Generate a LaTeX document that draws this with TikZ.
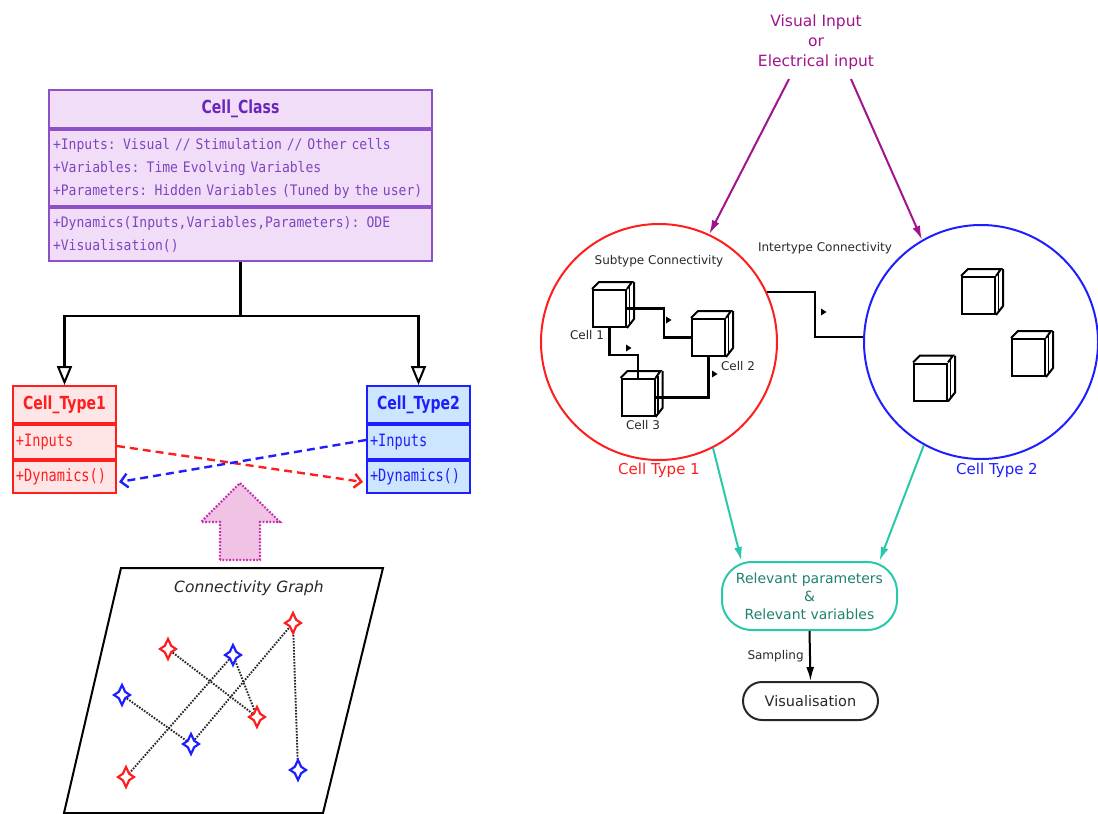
\documentclass[tikz,border=0pt]{standalone}
\usepackage{fontspec}
\setmainfont{DejaVu Sans}
\newfontfamily\umlmono{DejaVu Sans Mono}[FakeStretch=0.9]
\newfontfamily\smallmono{DejaVu Sans Mono}[FakeStretch=0.8]
\newfontfamily\umlttl{DejaVu Sans}[FakeStretch=0.78]
\usetikzlibrary{arrows.meta,calc}
\definecolor{umlpur}{RGB}{140,80,200}
\definecolor{umlfill}{RGB}{242,221,248}
\definecolor{umltext}{RGB}{125,70,190}
\definecolor{umltitle}{RGB}{105,40,185}
\definecolor{ctred}{RGB}{255,30,30}
\definecolor{ctredfill}{RGB}{255,230,230}
\definecolor{ctblue}{RGB}{30,30,255}
\definecolor{ctbluefill}{RGB}{204,230,255}
\definecolor{magin}{RGB}{160,20,140}
\definecolor{teal2}{RGB}{40,200,170}
\definecolor{tealtext}{RGB}{30,130,110}
\definecolor{pinkfill}{RGB}{240,195,228}
\definecolor{pinkline}{RGB}{200,50,180}
\definecolor{darktext}{RGB}{40,40,40}
\newcommand\cubeextra[1]{%
  \draw[cubeline] (#1.north west) -- ++(7,-7) -- ++(33,0) -- (#1.north east);
  \draw[cubeline] ($(#1.north east)+(7,-7)$) -- ++(0,37) -- (#1.south east);
  \draw[line width=1.2pt] ($(#1.north east)+(2.5,-2.5)$) -- ++(0,37);
}
\begin{document}
\begin{tikzpicture}[x=1pt,y=-1pt,
  umlbox/.style={draw, line width=2pt, inner sep=0pt, anchor=north west, rectangle},
  cchead/.style={umlbox, draw=umlpur, fill=umlfill, text=umltitle,
     font=\umlttl\bfseries\fontsize{18}{20}\selectfont, minimum width=383pt, minimum height=38pt},
  ccbody/.style={umlbox, draw=umlpur, fill=umlfill, text=umltext, inner xsep=4pt,
     font=\umlmono\fontsize{14.5}{23}\selectfont, text width=375pt, align=left},
  cthead/.style={umlbox, font=\umlttl\bfseries\fontsize{18}{20}\selectfont,
     minimum width=103pt, minimum height=37pt},
  ctbody/.style={umlbox, inner xsep=3pt, font=\smallmono\fontsize{17}{20}\selectfont,
     text width=97pt, align=left},
  redbox/.style={draw=ctred, fill=ctredfill, text=ctred},
  bluebox/.style={draw=ctblue, fill=ctbluefill, text=ctblue},
  inh/.style={line width=2.2pt, -{Triangle[open,length=19pt,width=15pt,line width=2pt,fill=white]}},
  dasharr/.style={line width=2.4pt, dash pattern=on 8pt off 5pt, -{Straight Barb[length=7pt,width=14pt,line width=2.4pt]}},
  graphedge/.style={line width=1.9pt, dash pattern=on 1.6pt off 1.4pt, draw=black!85},
  starpath/.style={line width=2.2pt, fill=white},
  redstar/.pic={\draw[starpath, draw=ctred] (0,-10) -- (3.2,-3.2) -- (8,0) -- (3.2,3.2) -- (0,10) -- (-3.2,3.2) -- (-8,0) -- (-3.2,-3.2) -- cycle;},
  bluestar/.pic={\draw[starpath, draw=ctblue] (0,-10) -- (3.2,-3.2) -- (8,0) -- (3.2,3.2) -- (0,10) -- (-3.2,3.2) -- (-8,0) -- (-3.2,-3.2) -- cycle;},
  cubef/.style={draw, line width=2pt, minimum width=33pt, minimum height=37pt, inner sep=0pt, fill=white},
  cubeline/.style={line width=2pt},
  conn/.style={line width=2.2pt},
  marker/.pic={\fill (-2,-3.5) -- (3.5,0) -- (-2,3.5) -- cycle;},
  lbl/.style={text=darktext, font=\fontsize{12}{14}\selectfont},
  magarrow/.style={draw=magin, line width=2pt, -{Latex[length=14pt,width=8pt]}},
  tealarrow/.style={draw=teal2, line width=2pt, -{Latex[length=14pt,width=8pt]}},
]
\useasboundingbox (0,0) rectangle (1098,814);

% ---------- Cell_Class ----------
\node[cchead] (cc) at (48,89) {Cell\_Class};
\node[ccbody, minimum height=76pt] (ccattr) at (cc.south west)
  {+Inputs: Visual // Stimulation // Other cells\\+Variables: Time Evolving Variables\\+Parameters: Hidden Variables (Tuned by the user)};
\node[ccbody, minimum height=53pt] (ccmeth) at (ccattr.south west)
  {+Dynamics(Inputs,Variables,Parameters): ODE\\+Visualisation()};

% ---------- Cell_Type1 ----------
\node[cthead, redbox] (ct1) at (12,385) {Cell\_Type1};
\node[ctbody, redbox, minimum height=34pt] (ct1in) at (ct1.south west) {+Inputs};
\node[ctbody, redbox, minimum height=32pt] (ct1dyn) at (ct1in.south west) {+Dynamics()};

% ---------- Cell_Type2 ----------
\node[cthead, bluebox] (ct2) at (366,385) {Cell\_Type2};
\node[ctbody, bluebox, minimum height=34pt] (ct2in) at (ct2.south west) {+Inputs};
\node[ctbody, bluebox, minimum height=32pt] (ct2dyn) at (ct2in.south west) {+Dynamics()};

% inheritance
\coordinate (split) at ($(ccmeth.south)+(0,54)$);
\draw[line width=2.2pt] (ccmeth.south) -- (split);
\draw[inh] (split) -| (ct1.north);
\draw[inh] (split) -| (ct2.north);

% dashed cross arrows
\draw[dasharr, draw=ctred] ([yshift=-4pt]ct1in.east) -- ([yshift=-5pt,xshift=-3pt]ct2dyn.west);
\draw[dasharr, draw=ctblue] ([yshift=2pt]ct2in.west) -- ([yshift=-5pt,xshift=2pt]ct1dyn.east);

% big pink arrow
\draw[draw=pinkline, fill=pinkfill, line width=2.2pt, dash pattern=on 1.8pt off 1.6pt]
  (220,560) -- (220,522) -- (201,522) -- (240,483) -- (280,522) -- (260,522) -- (260,560) -- cycle;

% connectivity graph panel
\draw[line width=2pt] (121,568) -- (383,568) -- (323,813) -- (64,813) -- cycle;
\node[font=\itshape\fontsize{15.5}{18}\selectfont, text=darktext] (cgtitle) at (249,588) {Connectivity Graph};

\coordinate (r1) at (293,623);
\coordinate (r2) at (168,649);
\coordinate (b1) at (233,655);
\coordinate (b2) at (122,695);
\coordinate (r3) at (257,717);
\coordinate (b3) at (191,744);
\coordinate (r4) at (126,777);
\coordinate (b4) at (298,770);
\draw[graphedge] (r2) -- (r3);
\draw[graphedge] (b1) -- (r3);
\draw[graphedge] (b1) -- (r4);
\draw[graphedge] (b2) -- (b3);
\draw[graphedge] (b3) -- (r1);
\draw[graphedge] (r1) -- (b4);
\pic at (r1) {redstar};
\pic at (r2) {redstar};
\pic at (r3) {redstar};
\pic at (r4) {redstar};
\pic at (b1) {bluestar};
\pic at (b2) {bluestar};
\pic at (b3) {bluestar};
\pic at (b4) {bluestar};

% ---------- Right side ----------
\node[text=magin, align=center, font=\fontsize{15.5}{20}\selectfont] (inp) at (816,42)
  {Visual Input\\or\\Electrical input};

\node[circle, draw=ctred, line width=2pt, minimum size=236pt, inner sep=0pt] (redc) at (659,342) {};
\node[circle, draw=ctblue, line width=2pt, minimum size=234pt, inner sep=0pt] (bluec) at (981,342) {};

\draw[magarrow] ([xshift=-27pt,yshift=-6pt]inp.south) -- (redc.65);
\draw[magarrow] ([xshift=35pt,yshift=-6pt]inp.south) -- (bluec.120);

\node[text=ctred, font=\fontsize{15}{18}\selectfont] (ct1lbl) at (659,470) {Cell Type 1};
\node[text=ctblue, font=\fontsize{15}{18}\selectfont] (ct2lbl) at (997,470) {Cell Type 2};

\node[lbl] (subt) at (659,261) {Subtype Connectivity};
\node[lbl] (intt) at (825,248) {Intertype Connectivity};

% cubes in red circle
\node[cubef] (c1) at (609.5,308.5) {};
\cubeextra{c1}
\node[cubef] (c2) at (708.5,337.5) {};
\cubeextra{c2}
\node[cubef] (c3) at (638,397.5) {};
\cubeextra{c3}
\node[lbl] (c1l) at (587,335) {Cell 1};
\node[lbl] (c2l) at (738,366) {Cell 2};
\node[lbl] (c3l) at (643,425) {Cell 3};

\draw[conn] (c1.east) -- ++(37,0) |- (c2.west);
\draw[conn] (c1.south) -- ++(0,27) -| (c3.north);
\draw[conn] (c3.east) -| (c2.south);
\pic at (668,320) {marker};
\pic at (628,348) {marker};
\pic at (714,374) {marker};

% intertype connection
\draw[conn] (redc.25) -| ($(bluec.west)+(-48,-5)$) -- ([yshift=5pt]bluec.west);
\pic at (823,312) {marker};

% cubes in blue circle
\node[cubef] (d1) at (978.5,295.5) {};
\cubeextra{d1}
\node[cubef] (d2) at (1028.5,357.5) {};
\cubeextra{d2}
\node[cubef] (d3) at (930.5,382) {};
\cubeextra{d3}

% relevant params box
\node[draw=teal2, line width=2pt, rounded corners=30pt, minimum width=175pt, minimum height=68pt,
      text=tealtext, align=center, font=\fontsize{14}{18}\selectfont] (rel) at (809.5,596)
  {Relevant parameters\\\&\\Relevant variables};
\draw[tealarrow] (redc.-63) -- ([xshift=-68pt]rel.north);
\draw[tealarrow] (bluec.-119) -- ([xshift=70pt]rel.north);

\node[draw=black!85, line width=2pt, rounded corners=19pt, minimum width=135pt, minimum height=38pt,
      font=\fontsize{14.5}{18}\selectfont, text=darktext] (vis) at (810.5,701) {Visualisation};
\draw[line width=2pt, -{Latex[length=14pt,width=8pt]}] (rel.south) -- node[lbl, left, xshift=-2pt] (samp) {Sampling} (vis.north);
\end{tikzpicture}
\end{document}
